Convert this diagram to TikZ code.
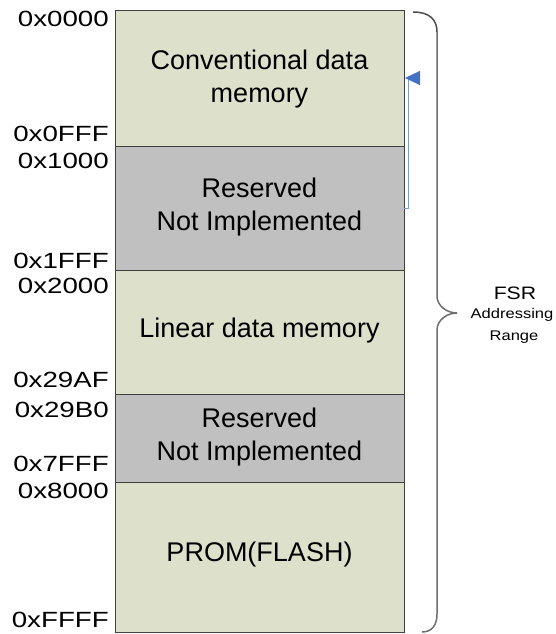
\documentclass[tikz,border=0pt]{standalone}
\usepackage{fontspec}
\setmainfont{Liberation Sans}
\newfontfamily\adrfont[FakeStretch=1.26]{Liberation Sans}
\newfontfamily\fsrfont[FakeStretch=1.18]{Liberation Sans}
\usetikzlibrary{arrows.meta}
\definecolor{vertclair}{RGB}{221,225,203}
\definecolor{grisres}{RGB}{192,192,192}
\definecolor{bleu}{RGB}{68,114,196}
\definecolor{bleuclair}{RGB}{120,156,216}
\definecolor{gris}{RGB}{110,110,110}

\begin{document}
\begin{tikzpicture}[x=1pt,y=-1pt,
		zone/.style={draw=black!75,line width=0.8pt},
		adr/.style={anchor=east,inner sep=0pt,font=\adrfont\fontsize{22}{26}\selectfont},
		txt/.style={align=center,inner sep=0pt,font=\fontsize{27}{33}\selectfont},
		petit/.style={inner sep=0pt,font=\fsrfont\fontsize{14}{17}\selectfont}]
				\useasboundingbox (0,0) rectangle (555,634);
				\fill[white] (0,0) rectangle (555,634);
				\draw[zone,fill=vertclair] (115,10) rectangle (404,146);
				\draw[zone,fill=grisres] (115,146) rectangle (404,270);
				\draw[zone,fill=vertclair] (115,270) rectangle (404,394);
				\draw[zone,fill=grisres] (115,394) rectangle (404,482);
				\draw[zone,fill=vertclair] (115,482) rectangle (404,632);
				\node[txt] (conv) at (259.5,79) {Conventional data\\memory};
				\node[txt] (res1) at (259.5,207) {Reserved\\Not Implemented};
				\node[txt] (lin) at (259.5,331) {Linear data memory};
				\node[txt] (res2) at (259.5,437) {Reserved\\Not Implemented};
				\node[txt] (prom) at (259.5,555) {PROM(FLASH)};
				\node[adr] (a0000) at (109,19) {0x0000};
				\node[adr] (a0fff) at (109,134) {0x0FFF};
				\node[adr] (a1000) at (109,161) {0x1000};
				\node[adr] (a1fff) at (109,261) {0x1FFF};
				\node[adr] (a2000) at (109,286) {0x2000};
				\node[adr] (a29af) at (109,380) {0x29AF};
				\node[adr] (a29b0) at (109,410) {0x29B0};
				\node[adr] (a7fff) at (109,464) {0x7FFF};
				\node[adr] (a8000) at (109,491) {0x8000};
				\node[adr] (affff) at (109,620) {0xFFFF};
				\coordinate (pied) at (404,208);
				\coordinate (tete) at (405,78);
				\draw[bleuclair,line width=1pt,-{Triangle[length=15pt,width=14pt,color=bleu]}] (pied) -- ++(4,0) |- (tete);
				\draw[black!70,line width=1.5pt] (413,12) .. controls (430,12) and (437,20) .. (437,32);
				\draw[gris,line width=1.5pt] (437,32) -- (437,296)
					.. controls (437,306) and (447,313) .. (457,313)
					.. controls (447,313) and (437,320) .. (437,330) -- (437,614)
					.. controls (437,625) and (432,632) .. (422,632);
				\node[inner sep=0pt,font=\fsrfont\fontsize{18}{21}\selectfont] (fsr) at (515,293) {FSR};
				\node[petit] (addr) at (512,315) {Addressing};
				\node[petit] (range) at (514,337) {Range};
			\end{tikzpicture}
\end{document}
